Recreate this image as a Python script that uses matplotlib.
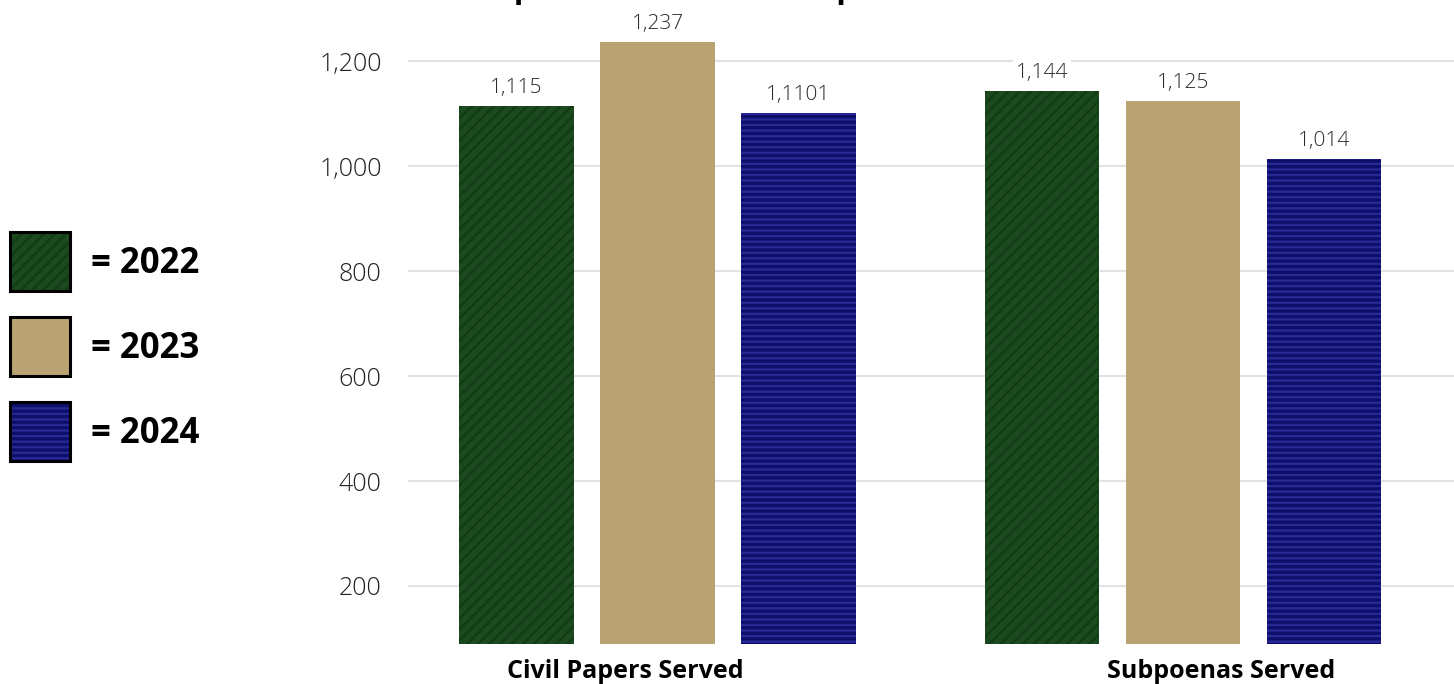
import matplotlib
matplotlib.use("Agg")
import matplotlib.pyplot as plt
from matplotlib.patches import Rectangle
from matplotlib.transforms import blended_transform_factory
import numpy as np

# ---- data ----
categories = ["Civil Papers Served", "Subpoenas Served"]
years = ["2022", "2023", "2024"]
civil_values = [1115, 1237, 1101]
subpoena_values = [1144, 1125, 1014]
civil_labels = ["1,115", "1,237", "1,1101"]
subpoena_labels = ["1,144", "1,125", "1,014"]
yticks = [200, 400, 600, 800, 1000, 1200]
title = "Civil Papers Served and Subpoenas Served"

# ---- style ----
face_colors = ["#1b4a1e", "#b9a372", "#0e0e6c"]
hatch_colors = ["#123a16", "#b9a372", "#2a2a94"]
hatches = ["///", "", "---"]
plt.rcParams["font.family"] = ["Open Sans", "DejaVu Sans"]
plt.rcParams["hatch.linewidth"] = 1.6

fig = plt.figure(figsize=(14.54, 6.84), dpi=100)
ax = fig.add_axes([408 / 1454, 1 - 644 / 684, 1 - 408 / 1454, 644 / 684])

group_offsets = [0.0, 3.727]
series = [civil_values, subpoena_values]
labels = [civil_labels, subpoena_labels]
for g, (vals, labs) in enumerate(zip(series, labels)):
    xs = group_offsets[g] + np.arange(len(vals))
    for i, (x, v, lab) in enumerate(zip(xs, vals, labs)):
        ax.bar(x, v, width=0.81, color=face_colors[i], edgecolor=hatch_colors[i],
               hatch=hatches[i], linewidth=0, zorder=2)
        ax.annotate(lab, (x, v), xytext=(0, 9.5), textcoords="offset points",
                    ha="center", va="baseline", fontsize=15, fontweight="light",
                    color="#2a2a2a", zorder=3,
                    bbox=dict(boxstyle="square,pad=0.15", fc="white", ec="none"))

ax.set_ylim(89.4, 1317)
ax.set_xlim(-0.77, 6.65)
ax.set_yticks(yticks)
ax.set_yticklabels([f"{t:,}" for t in yticks], fontsize=18, fontweight="light",
                   color="#222222")
ax.tick_params(axis="y", length=0, pad=19)
ax.set_xticks([])
ax.grid(axis="y", color="#e2e2e2", linewidth=1.5, zorder=0)
ax.set_axisbelow(True)
for s in ax.spines.values():
    s.set_visible(False)

# category labels
trans = blended_transform_factory(ax.transData, fig.transFigure)
cat_x = [0.77, 5.0]
for cx, cat in zip(cat_x, categories):
    ax.text(cx, 1 - 678 / 684, cat, transform=trans, ha="center", va="baseline",
            fontsize=18, fontweight="bold", color="black")

# legend (manual)
box_tops = [232, 317, 402]
for i, (yr, top) in enumerate(zip(years, box_tops)):
    x0, w, h = 10 / 1454, 60 / 1454, 59 / 684
    y0 = 1 - (top + 59) / 684
    fig.add_artist(Rectangle((x0, y0), w, h, transform=fig.transFigure,
                             facecolor=face_colors[i], edgecolor=hatch_colors[i],
                             hatch=hatches[i], linewidth=0))
    fig.add_artist(Rectangle((x0, y0), w, h, transform=fig.transFigure,
                             fill=False, edgecolor="black", linewidth=2.2))
    fig.text(91 / 1454, 1 - (top + 32) / 684, "= " + yr, ha="left", va="center",
             fontsize=25, fontweight="bold", color="black")

# title (mostly cropped above the figure, as in the reference)
fig.text(0.5 + 6 / 1454, 1 + 3 / 684, title, ha="center", va="baseline", fontsize=23,
         fontweight="bold", color="black")

fig.savefig("out.png", dpi=100)
